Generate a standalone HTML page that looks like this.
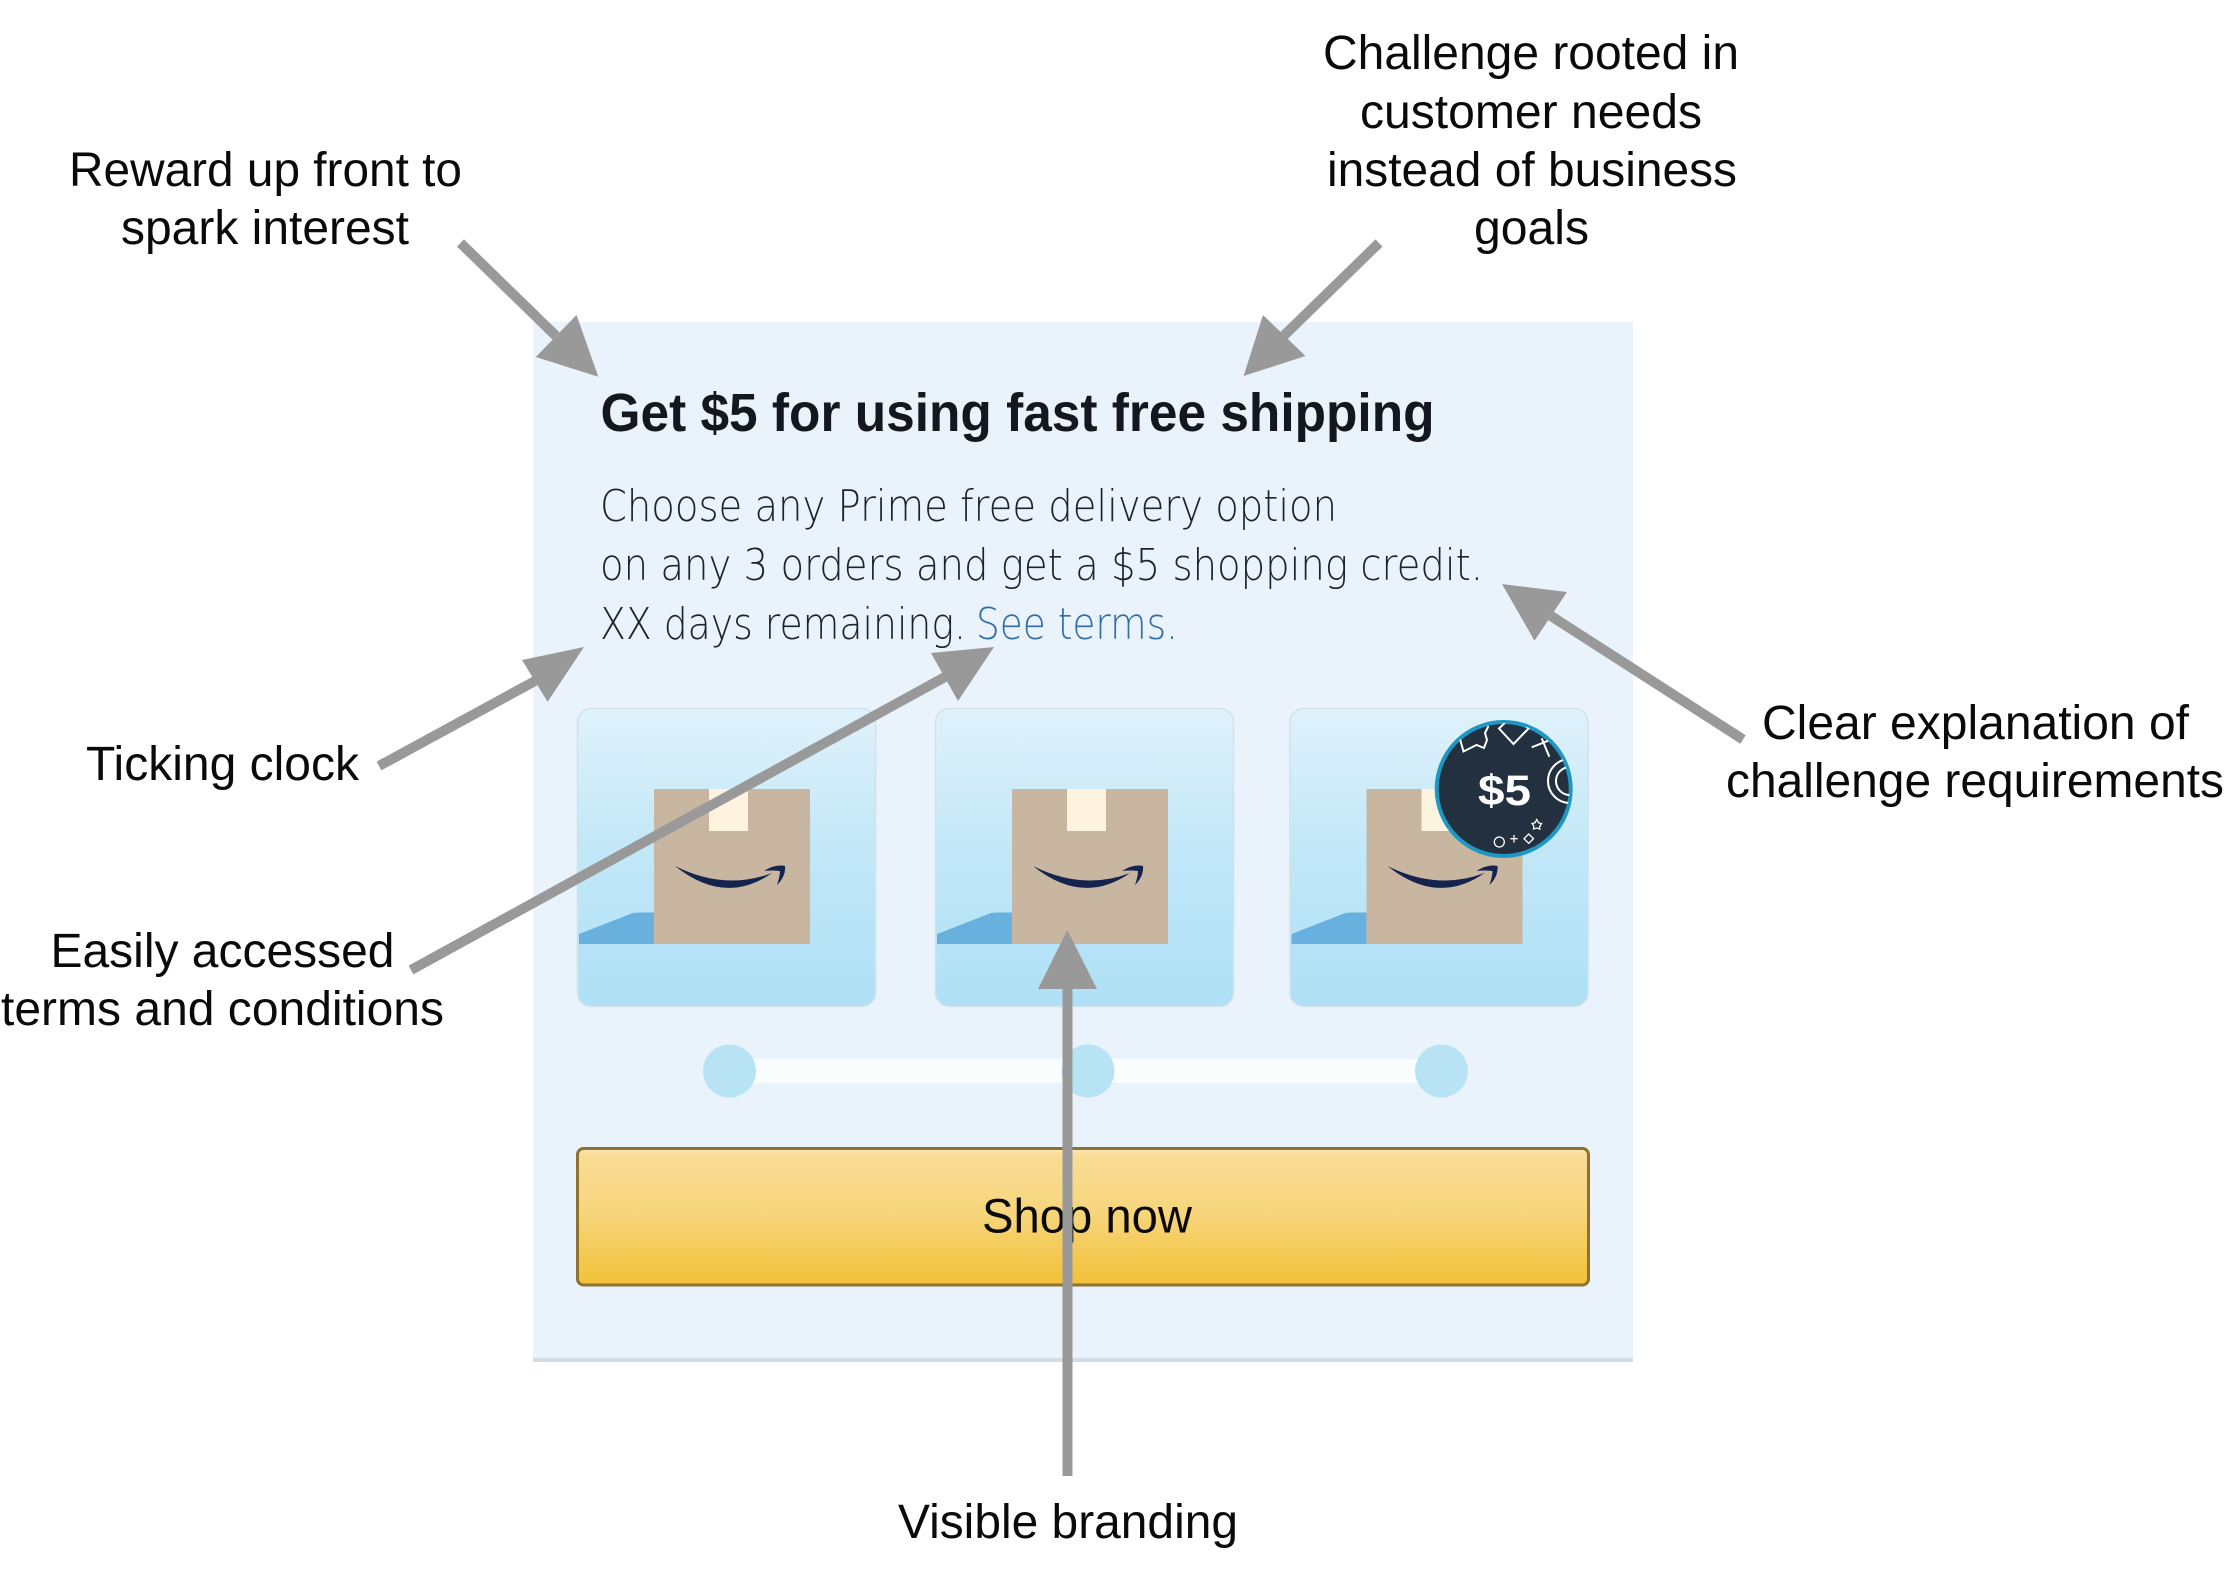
<!DOCTYPE html>
<html><head><meta charset="utf-8"><title>Challenge card annotated</title>
<style>html,body{margin:0;padding:0;background:#fff}svg{display:block}
.l{font-family:"Liberation Sans",Arial,sans-serif;font-size:48.5px;fill:#0a0a0a}
.h{font-family:"Liberation Sans",sans-serif;font-weight:bold;font-size:54px;fill:#12181e}
.b{font-family:"DejaVu Sans ExtraLight","DejaVu Sans Light","Liberation Sans",sans-serif;font-size:44px;fill:#1b242d}
</style></head><body>
<svg width="2232" height="1586" viewBox="0 0 2232 1586" xmlns="http://www.w3.org/2000/svg">
<defs>
<linearGradient id="c" x1="0" y1="0" x2="0" y2="1"><stop offset="0" stop-color="#e0f2fb"/><stop offset=".45" stop-color="#c3e8f8"/><stop offset="1" stop-color="#afe0f6"/></linearGradient>
<linearGradient id="bt" x1="0" y1="0" x2="0" y2="1"><stop offset="0" stop-color="#fbeabf"/><stop offset=".05" stop-color="#f9dc95"/><stop offset=".45" stop-color="#f7d67e"/><stop offset="1" stop-color="#f2c136"/></linearGradient>
<clipPath id="cc"><circle cx="1503.7" cy="789" r="66"/></clipPath>
<g id="card">
<rect x="0.5" y="0.5" width="298" height="298" rx="14" fill="url(#c)" stroke="#cfe2ea" stroke-width="1.5"/>
<path d="M2,226 L56,205 Q60,204.500 64,204.500 L77,204.500 L77,236 L2,236Z" fill="#68b0dd"/>
<rect x="77" y="81" width="156" height="155" fill="#c9b6a1"/>
<rect x="132" y="81" width="39" height="42" fill="#fdf3df"/>
<path d="M98,158 Q148,183 195,165 Q148,198 98,158Z M187,163 Q198,156 208,158 Q209,168 200,177 Q203,168 203,163 Q195,162 187,163Z" fill="#14244f"/>
</g>
</defs>
<rect width="2232" height="1586" fill="#fff"/>
<!-- panel -->
<rect x="533" y="322" width="1100" height="1040" fill="#eaf2fb"/>
<rect x="533" y="1358" width="1100" height="4" fill="#d3dbe4"/>
<!-- heading text -->
<text class="h" x="600.500" y="431" textLength="834" lengthAdjust="spacingAndGlyphs">Get $5 for using fast free shipping</text>
<text class="b" x="600" y="521" textLength="737" lengthAdjust="spacingAndGlyphs">Choose any Prime free delivery option</text>
<text class="b" x="600" y="580" textLength="883" lengthAdjust="spacingAndGlyphs">on any 3 orders and get a $5 shopping credit.</text>
<text class="b" x="600" y="639" textLength="366" lengthAdjust="spacingAndGlyphs">XX days remaining.</text>
<text class="b" x="976" y="639" textLength="202" lengthAdjust="spacingAndGlyphs" style="fill:#2f6ea8">See terms.</text>
<!-- cards -->
<use href="#card" x="577" y="708"/>
<use href="#card" x="935" y="708"/>
<use href="#card" x="1289.500" y="708"/>
<!-- badge -->
<circle cx="1503.700" cy="789" r="67" fill="#22303f" stroke="#1e97c2" stroke-width="4"/>
<g clip-path="url(#cc)" fill="none" stroke="#fff" stroke-width="2">
<path d="M1460,739 L1463.500,751.500 L1476.500,745 L1484,748 L1487,740 L1485,733 L1488.500,726"/>
<path d="M1499,728.500 L1513.500,744 L1528.500,728.500 L1513,715Z"/>
<path d="M1531.700,747.300 L1548.300,740.700 M1541.700,738.300 L1549.300,756.700"/>
<circle cx="1570" cy="781" r="22"/><circle cx="1570" cy="781" r="14"/>
<circle cx="1499.300" cy="842" r="5" stroke-width="1.300"/>
<path d="M1514,835 V842.500 M1510.300,838.700 H1517.700" stroke-width="1.300"/>
<path d="M1528.700,834 L1533.500,838.700 L1528.700,843.300 L1524,838.700Z" stroke-width="1.300"/>
<path d="M1536.700,819.500 L1538.500,822.800 L1541.500,823.500 L1539.500,827 L1539.800,829 L1536.700,828 L1533.500,829 L1533.800,826 L1532,823.500 L1535,822.800Z" stroke-width="1.300"/>
</g>
<text x="1478" y="805" textLength="53" lengthAdjust="spacingAndGlyphs" font-family="'Liberation Sans',sans-serif" font-weight="bold" font-size="43" fill="#fff">$5</text>
<!-- progress -->
<rect x="745" y="1059" width="680" height="24" fill="#fafdfe"/>
<circle cx="729.500" cy="1071" r="26.500" fill="#b8e3f5"/>
<circle cx="1088" cy="1071" r="26.500" fill="#b8e3f5"/>
<circle cx="1441.500" cy="1071" r="26.500" fill="#b8e3f5"/>
<!-- button -->
<rect x="577.500" y="1148.500" width="1017" height="136.500" rx="6" fill="url(#bt)" stroke="#8d7233" stroke-width="3" style="width:1011px"/>
<text class="l" x="982" y="1232.500" textLength="210" lengthAdjust="spacingAndGlyphs">Shop now</text>
<!-- labels -->
<g class="l">
<text class="l" x="69" y="186" textLength="393" lengthAdjust="spacingAndGlyphs">Reward up front to</text>
<text class="l" x="121" y="244" textLength="288" lengthAdjust="spacingAndGlyphs">spark interest</text>
<text class="l" x="1323" y="69" textLength="416" lengthAdjust="spacingAndGlyphs">Challenge rooted in</text>
<text class="l" x="1360" y="128" textLength="342" lengthAdjust="spacingAndGlyphs">customer needs</text>
<text class="l" x="1327" y="186" textLength="410" lengthAdjust="spacingAndGlyphs">instead of business</text>
<text class="l" x="1474" y="244" textLength="115" lengthAdjust="spacingAndGlyphs">goals</text>
<text class="l" x="1762" y="739" textLength="427" lengthAdjust="spacingAndGlyphs">Clear explanation of</text>
<text class="l" x="1726" y="797" textLength="498" lengthAdjust="spacingAndGlyphs">challenge requirements</text>
<text class="l" x="86" y="780" textLength="273" lengthAdjust="spacingAndGlyphs">Ticking clock</text>
<text class="l" x="50.500" y="967" textLength="344" lengthAdjust="spacingAndGlyphs">Easily accessed</text>
<text class="l" x="1" y="1025" textLength="443" lengthAdjust="spacingAndGlyphs">terms and conditions</text>
<text class="l" x="898" y="1538" textLength="340" lengthAdjust="spacingAndGlyphs">Visible branding</text>
</g>
<!-- arrows -->
<g stroke="#999" stroke-width="10" fill="none">
<line x1="460.500" y1="243" x2="556" y2="336"/>
<line x1="1379" y1="243" x2="1284" y2="335.500"/>
<line x1="1743" y1="739.500" x2="1551" y2="616"/>
<line x1="379" y1="766" x2="535" y2="681"/>
<line x1="411" y1="970" x2="945" y2="677"/>
<line x1="1067.500" y1="1476" x2="1067.500" y2="985"/>
</g>
<g fill="#999">
<polygon points="598.300,376.700 576.500,315 535.800,357"/>
<polygon points="1243.600,376 1263,315 1305.500,356"/>
<polygon points="1502,584 1567,592 1534.500,640.700"/>
<polygon points="584,647 522,660 547.600,701.700"/>
<polygon points="994,647 931,653 958,701"/>
<polygon points="1067.300,930 1038,989 1097,989"/>
</g>
</svg>
</body></html>
